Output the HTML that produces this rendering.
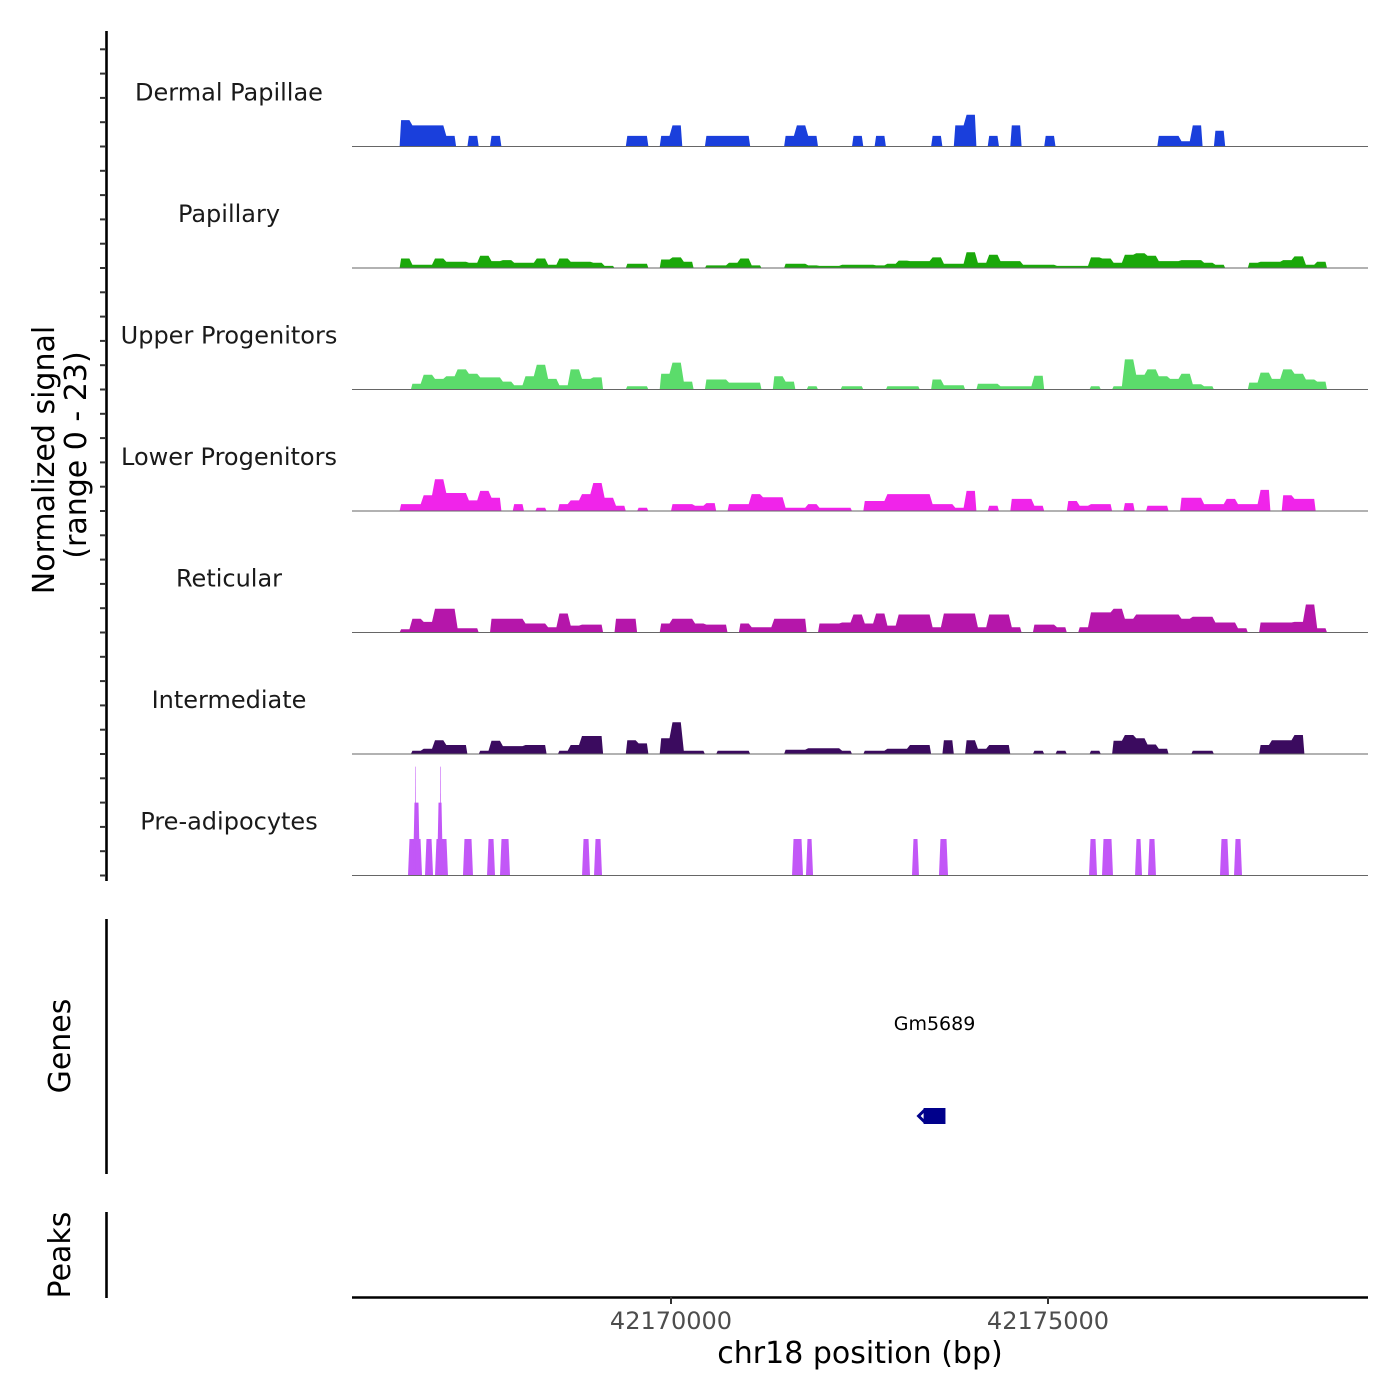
<!DOCTYPE html>
<html><head><meta charset="utf-8"><style>
html,body{margin:0;padding:0;background:#fff;}
svg{display:block;font-family:"DejaVu Sans","Liberation Sans",sans-serif;}
</style></head><body>
<svg id="chart" width="1400" height="1400" viewBox="0 0 1400 1400">
<g id="tracks"></g>
<g id="axes"></g>
</svg>
<script>
// ---- data ----
const trackNames = ["Dermal Papillae","Papillary","Upper Progenitors","Lower Progenitors","Reticular","Intermediate","Pre-adipocytes"];
const trackColors = ["#1a3fdc","#1aa80a","#5bdc6b","#f024ea","#b516aa","#3b0b5f","#c257f7"];
const binStart = 42166400;
const binWidth = 150;
const dermal = [5,4,4,4,2,0,2,0,2,0,0,0,0,0,0,0,0,0,0,0,2,2,0,2,4,0,0,2,2,2,2,0,0,0,2,4,2,0,0,0,2,0,2,0,0,0,0,2,0,4,6,0,2,0,4,0,0,2,0,0,0,0,0,0,0,0,0,2,2,1,4,0,3,0,0,0,0,0,0,0,0,0,0];
const papillary = [1.8,0.6,0.6,1.8,1.2,1.2,1.0,2.3,1.3,1.5,1.0,1.0,1.8,0.6,1.8,1.2,1.2,1.0,0.4,0,0.8,0.8,0,1.6,2.0,1.2,0,0.5,0.5,1.0,1.8,0.5,0,0,0.8,0.8,0.5,0.4,0.4,0.6,0.6,0.6,0.5,0.8,1.4,1.3,1.3,2.0,0.8,0.8,3.0,1.0,2.5,1.3,1.3,0.6,0.6,0.6,0.4,0.4,0.4,2.0,1.8,1.0,2.5,2.8,2.3,1.3,1.3,1.5,1.5,1.0,0.6,0,0,1.0,1.2,1.2,1.5,2.2,0.6,1.2,0];
const upper = [0,1.1,2.8,2.0,2.5,3.8,3.0,2.3,2.3,1.5,0.8,2.5,4.7,2.0,0.8,3.8,2.0,2.3,0,0,0.6,0.6,0,3.0,5.1,1.5,0,1.9,1.9,1.3,1.3,1.3,0,2.5,1.5,0,0.6,0,0,0.6,0.6,0,0,0.6,0.6,0.6,0,1.9,0.8,0.8,0,1.1,1.1,0.6,0.6,0.6,2.6,0,0,0,0,0.6,0,0.6,5.7,2.8,3.8,2.5,2.0,3.0,1.0,0.6,0,0,0,1.3,3.2,2.0,3.8,3.0,1.9,1.5,0];
const lower = [1.3,1.3,3.0,6.0,3.4,3.4,2.0,3.8,2.5,0,1.3,0,0.6,0,1.3,2.0,3.2,5.3,2.5,1.0,0,0.6,0,0,1.3,1.3,1.0,1.5,0,1.3,1.3,3.2,2.6,2.6,0.6,0.6,1.3,0.6,0.6,0.6,0,1.9,1.9,3.2,3.2,3.2,3.2,1.3,1.3,0.6,3.8,0,1.0,0,2.3,2.3,1.0,0,0,1.9,1.0,1.3,1.3,0,1.5,0,1.0,1.0,0,2.5,2.5,1.3,1.3,2.3,1.3,1.3,4.0,0,3.0,2.3,2.3,0,0];
const reticular = [0.6,2.6,2.0,4.5,4.5,0.8,0.8,0,2.6,2.6,2.6,1.7,1.7,1.0,3.6,1.3,1.5,1.5,0,2.6,2.6,0,0,1.7,2.6,2.6,1.7,1.5,1.5,0,1.7,1.0,1.0,2.6,2.6,2.6,0,1.7,1.7,1.9,3.4,1.7,3.6,1.3,3.4,3.4,3.4,1.0,3.6,3.6,3.6,1.0,3.4,3.4,1.0,0,1.5,1.5,1.0,0,1.0,3.8,3.8,4.5,2.6,3.4,3.4,3.4,3.4,2.6,3.0,3.0,1.9,1.9,0.8,0,1.9,1.9,1.9,2.0,5.3,0.8,0];
const intermediate = [0,0.6,1.0,2.6,1.7,1.7,0,0.6,2.5,1.5,1.5,1.7,1.7,0,0.6,1.7,3.4,3.4,0,0,2.6,2.0,0,3.0,6.0,0.6,0.6,0,0.6,0.6,0.6,0,0,0,0.8,0.8,1.1,1.1,1.1,0.6,0,0.6,0.6,1.0,1.0,1.7,1.7,0,2.6,0,2.6,1.0,1.7,1.7,0,0,0.6,0,0.6,0,0,0.6,0,2.5,3.6,3.0,1.8,1.0,0,0,0.6,0.6,0,0,0,0,1.7,2.6,2.6,3.6,0,0,0];
const preStart = [42166512,42166578,42166605,42166737,42166870,42166897,42166936,42167241,42167560,42167732,42168820,42168979,42171605,42171790,42173196,42173554,42175544,42175716,42176154,42176326,42177281,42177467];
const preEnd   = [42166698,42166671,42166618,42166844,42167042,42166976,42166950,42167374,42167666,42167865,42168926,42169085,42171751,42171884,42173289,42173674,42175650,42175862,42176247,42176432,42177400,42177573];
const preVal   = [6.9,13.8,20.6,6.9,6.9,13.8,20.6,6.9,6.9,6.9,6.9,6.9,6.9,6.9,6.9,6.9,6.9,6.9,6.9,6.9,6.9,6.9];
const xTicks = [42170000,42175000];
const geneName = "Gm5689";
const geneStart = 42173350;
const geneEnd = 42173640;

// ---- scales ----
const NS="http://www.w3.org/2000/svg";
const plotL=352, plotR=1368;
function xs(bp){ return 671 + (bp-42170000)*0.07540; }
const trackH = 121.5, yMax = 23;
const baselines = [146.5,268,389.5,511,632.5,754,875.5];
function ys(v,t){ return baselines[t] - v/yMax*trackH; }
function mk(tag,attrs,parent){ const e=document.createElementNS(NS,tag); for(const k in attrs) e.setAttribute(k,attrs[k]); parent.appendChild(e); return e; }

const tracks=document.getElementById('tracks');
const axes=document.getElementById('axes');
const binned=[dermal,papillary,upper,lower,reticular,intermediate];

binned.forEach((vals,t)=>{
  const g=mk('g',{},tracks);
  
  
  let d='';
  let open=false;
  vals.forEach((v,i)=>{
    const x0=xs(binStart+i*binWidth), x1=xs(binStart+(i+1)*binWidth);
    if(v>0){
      if(!open){ d+='M'+x0.toFixed(1)+','+baselines[t]; open=true; }
      d+='L'+(x0+1.5).toFixed(1)+','+ys(v,t).toFixed(1)+'L'+(x1-1.5).toFixed(1)+','+ys(v,t).toFixed(1);
    } else if(open){
      d+='L'+x0.toFixed(1)+','+baselines[t]+'Z'; open=false;
    }
  });
  if(open){ d+='L'+xs(binStart+vals.length*binWidth).toFixed(1)+','+baselines[t]+'Z'; }
  const p=mk('path',{d:d,fill:trackColors[t]},g);
  
  
});

// pre-adipocytes
(function(){
  const t=6;
  const g=mk('g',{},tracks);
  
  
  preStart.forEach((s,i)=>{
    const x0=xs(s), x1=xs(preEnd[i]), y=ys(preVal[i],t), w=x1-x0;
    const inset=Math.min(1.5,w/4);
    const p=mk('polygon',{points:[x0,baselines[t],x0+inset,y,x1-inset,y,x1,baselines[t]].join(' '),fill:trackColors[t]},g);
    
    
  });
})();

// baselines and labels
baselines.forEach((b,t)=>{
  const l=mk('line',{x1:plotL,x2:plotR,y1:b,y2:b,stroke:'#666','stroke-width':1},axes);
  
  
  const tx=mk('text',{x:229,y:b-46,'text-anchor':'middle','font-size':24,fill:'#1a1a1a'},axes);
  tx.textContent=trackNames[t];
  
  
});

// left axes
function vline(y1,y2,name){
  const l=mk('line',{x1:106.5,x2:106.5,y1:y1,y2:y2,stroke:'#000','stroke-width':2.6},axes);
  
  
}
vline(31,881,'signal-y-axis');
vline(919,1174,'genes-y-axis');
vline(1212,1298,'peaks-y-axis');
for(let y=875.5; y>40; y-=trackH/5){
  const tk=mk('line',{x1:100,x2:106,y1:y,y2:y,stroke:'#333','stroke-width':2},axes);
  
  
}
function vtext(x,y,txt,size,name){
  const t=mk('text',{x:x,y:y,'text-anchor':'middle','font-size':size,fill:'#000',transform:'rotate(-90 '+x+' '+y+')'},axes);
  t.textContent=txt;
  
  
}
vtext(54,460,'Normalized signal',30,'y-axis-title');
vtext(86,455,'(range 0 - 23)',30,'y-axis-subtitle');
vtext(70,1046,'Genes',30,'genes-label');
vtext(70,1255,'Peaks',30,'peaks-label');

// bottom axis
const ax=mk('line',{x1:plotL,x2:plotR,y1:1297.5,y2:1297.5,stroke:'#000','stroke-width':2.4},axes);


xTicks.forEach(v=>{
  const x=xs(v);
  const tk=mk('line',{x1:x,x2:x,y1:1297,y2:1304,stroke:'#333','stroke-width':2},axes);
  
  
  const tl=mk('text',{x:x,y:1329,'text-anchor':'middle','font-size':24,fill:'#4d4d4d'},axes);
  tl.textContent=String(v);
  
  
});
const xt=mk('text',{x:860,y:1363,'text-anchor':'middle','font-size':30,fill:'#000'},axes);
xt.textContent='chr18 position (bp)';



// gene
const gx0=xs(geneStart), gx1=xs(geneEnd);
const gl=mk('text',{x:(gx0+gx1)/2,y:1030,'text-anchor':'middle','font-size':19,fill:'#000'},axes);
gl.textContent=geneName;


const gr=mk('rect',{x:gx0,y:1108,width:gx1-gx0,height:16,fill:'#00008b'},axes);


const ga=mk('polyline',{points:(gx0+1)+',1110 '+(gx0-5)+',1116 '+(gx0+1)+',1122',fill:'none',stroke:'#00008b','stroke-width':3},axes);


</script>
</body></html>
